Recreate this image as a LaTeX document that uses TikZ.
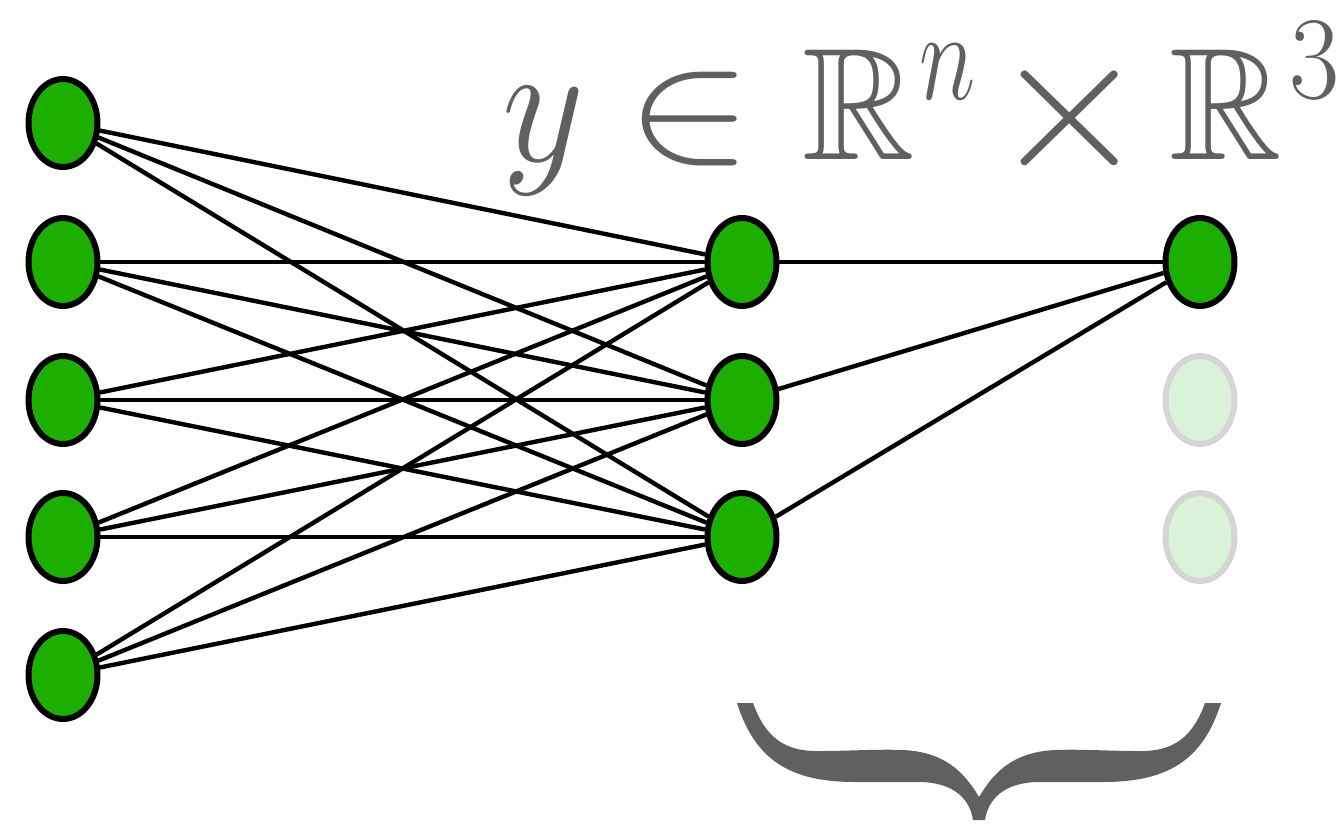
\documentclass[tikz,border=0pt]{standalone}
\usepackage{amssymb}
\usetikzlibrary{shapes.geometric}
\definecolor{nodegreen}{HTML}{1DAF00}
\definecolor{fadegreen}{HTML}{DAF2D7}
\definecolor{fadegray}{HTML}{D5D5D5}
\definecolor{textgray}{HTML}{606060}
\begin{document}
\begin{tikzpicture}[x=0.02cm,y=-0.02cm,
  neuron/.style={ellipse,draw=black,fill=nodegreen,line width=3.4pt,minimum width=1.38cm,minimum height=1.76cm,inner sep=0pt},
  faded/.style={ellipse,draw=fadegray,fill=fadegreen,line width=3.4pt,minimum width=1.38cm,minimum height=1.76cm,inner sep=0pt},
  conn/.style={line width=2.5pt,black},
  glyph/.style={inner sep=0pt,outer sep=0pt,text=textgray,font=\Huge,anchor=center}]
\useasboundingbox (0,0) rectangle (1343,825);
\node[neuron] (a1) at (63,123) {};
\node[neuron] (a2) at (63,262) {};
\node[neuron] (a3) at (63,400) {};
\node[neuron] (a4) at (63,537) {};
\node[neuron] (a5) at (63,675) {};
\node[neuron] (b1) at (742,262) {};
\node[neuron] (b2) at (742,400) {};
\node[neuron] (b3) at (742,537) {};
\node[neuron] (c1) at (1200,262) {};
\node[faded] (c2) at (1200,400) {};
\node[faded] (c3) at (1200,537) {};
\foreach \i in {1,...,5}{
  \foreach \j in {1,2,3}{
    \draw[conn] (a\i) -- (b\j);
  }
}
\foreach \j in {1,2,3}{
  \draw[conn] (b\j) -- (c1);
}
% label y \in R^n x R^3, set glyph by glyph
\node[glyph,xscale=3.66,yscale=3.95] (ly) at (544,141) {$y$};
\node[glyph,xscale=4.34,yscale=3.7] (lin) at (690,119) {$\in$};
\node[glyph,xscale=3.57,yscale=3.65] (lr1) at (859,105) {$\mathbb{R}$};
\node[glyph,xscale=2.2,yscale=2.93] (ln) at (948,72) {$n$};
\node[glyph,xscale=4.6,yscale=4.5] (ltimes) at (1070,118) {$\times$};
\node[glyph,xscale=3.57,yscale=3.65] (lr2) at (1226,105) {$\mathbb{R}$};
\node[glyph,xscale=2.5,yscale=2.7] (l3) at (1315,60) {$3$};
\fill[textgray] (737,703) .. controls (755,760) and (790,782) .. (855,782)
  -- (918,782) .. controls (955,782) and (970,800) .. (973,820)
  -- (985,820) .. controls (988,800) and (1003,782) .. (1040,782)
  -- (1103,782) .. controls (1168,782) and (1203,760) .. (1221,703)
  -- (1205,703) .. controls (1190,745) and (1165,752) .. (1135,751)
  .. controls (1110,751) and (1080,749) .. (1055,750)
  .. controls (1015,752) and (995,770) .. (979,797)
  .. controls (963,770) and (943,752) .. (903,750)
  .. controls (878,749) and (848,751) .. (823,751)
  .. controls (793,752) and (768,745) .. (753,703) -- cycle;
\end{tikzpicture}
\end{document}
